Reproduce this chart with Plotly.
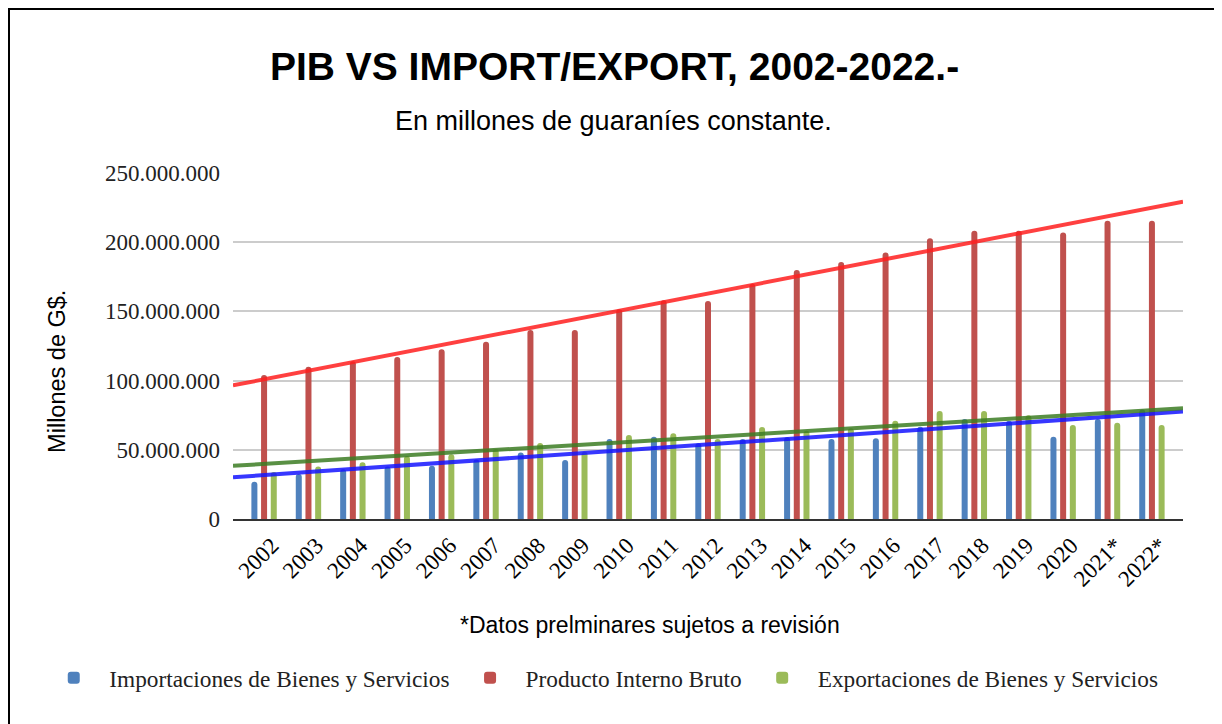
import numpy as np
import plotly.graph_objects as go

years = ['2002', '2003', '2004', '2005', '2006', '2007', '2008', '2009', '2010', '2011',
         '2012', '2013', '2014', '2015', '2016', '2017', '2018', '2019', '2020', '2021*', '2022*']
importaciones = [27.0, 32.5, 36.0, 38.0, 38.5, 43.0, 48.0, 42.6, 57.8, 59.5, 54.7,
                 57.8, 59.0, 57.8, 58.3, 66.7, 72.3, 71.0, 59.5, 72.3, 79.2]
pib = [104.0, 110.0, 114.0, 117.0, 122.6, 128.0, 136.6, 136.6, 151.5, 158.0, 157.5,
       170.0, 180.0, 185.7, 192.6, 202.8, 208.3, 208.3, 207.0, 215.5, 215.5]
exportaciones = [34.0, 38.0, 41.0, 45.5, 46.7, 50.6, 55.0, 48.6, 60.7, 62.0, 57.8,
                 66.5, 63.8, 65.5, 71.0, 78.0, 78.0, 75.0, 68.0, 69.6, 68.0]
y_ticks = [0, 50e6, 100e6, 150e6, 200e6, 250e6]
y_tick_labels = ['0', '50.000.000', '100.000.000', '150.000.000', '200.000.000', '250.000.000']

SCALE = 1e6
series = [
    ('Importaciones de Bienes y Servicios', importaciones, '#4f81bd', 'rgba(20,20,255,0.85)'),
    ('Producto Interno Bruto', pib, '#c0504d', 'rgba(255,30,30,0.85)'),
    ('Exportaciones de Bienes y Servicios', exportaciones, '#9bbb59', 'rgba(60,125,35,0.85)'),
]

x_range = [-0.7, len(years) - 1 + 0.7]
idx = np.arange(len(years))

fig = go.Figure()
for name, vals, col, _ in series:
    fig.add_trace(go.Bar(
        x=years, y=[v * SCALE for v in vals], name=name,
        marker=dict(color=col, cornerradius=3, line=dict(width=0)),
    ))

for name, vals, _, tcol in series:
    slope, icpt = np.polyfit(idx, np.array(vals) * SCALE, 1)
    xs = np.array(x_range)
    fig.add_trace(go.Scatter(
        x=xs, y=slope * xs + icpt, xaxis='x2', mode='lines',
        line=dict(color=tcol, width=4), showlegend=False, hoverinfo='skip',
    ))

SERIF = 'Liberation Serif, Times New Roman, serif'
SANS = 'Liberation Sans, Arial, sans-serif'

W, H = 1214, 716

fig.update_layout(
    width=W, height=H,
    margin=dict(l=225, r=39, t=165, b=205),
    paper_bgcolor='white', plot_bgcolor='white',
    barmode='group', bargap=0.345, bargroupgap=0.38,
    title=dict(text='<b>PIB VS IMPORT/EXPORT, 2002-2022.-</b>', x=(614.5 - 8) / W, xanchor='center',
               y=1 - 58 / H, yanchor='middle',
               font=dict(family=SANS, size=39, color='black')),
    xaxis=dict(type='category', range=x_range, tickangle=-45, showgrid=False,
               showline=True, linecolor='#333333', linewidth=2, ticks='',
               ticklabelshift=8, ticklabelstandoff=2,
               tickfont=dict(family=SERIF, size=23, color='black')),
    xaxis2=dict(overlaying='x', range=x_range, visible=False, type='linear'),
    yaxis=dict(range=[0, 250e6], tickvals=y_ticks, ticktext=y_tick_labels,
               showgrid=True, gridcolor='#cccccc', gridwidth=1.5, zeroline=False,
               ticks='', ticklabelstandoff=12,
               tickfont=dict(family=SERIF, size=23, color='#222222')),
    legend=dict(orientation='h', x=-0.205, xanchor='left', y=-0.4595, yanchor='middle',
                font=dict(family=SERIF, size=23.3, color='#222222'), traceorder='normal',
                itemwidth=61),
    showlegend=True,
    annotations=[
        dict(text='En millones de guaraníes constante.', xref='paper', yref='paper',
             x=0.4, y=1.150, xanchor='center', yanchor='middle', showarrow=False,
             font=dict(family=SANS, size=27, color='black')),
        dict(text='*Datos prelminares sujetos a revisión', xref='paper', yref='paper',
             x=0.4389, y=-0.306, xanchor='center', yanchor='middle', showarrow=False,
             font=dict(family=SANS, size=23, color='black')),
        dict(text='Millones de G$.', xref='paper', yref='paper', textangle=-90,
             x=-0.1853, y=0.428, xanchor='center', yanchor='middle', showarrow=False,
             font=dict(family=SANS, size=23.5, color='black')),
    ],
    shapes=[dict(type='rect', xref='paper', yref='paper',
                 x0=(1 - 225) / 950, x1=(1211 - 225) / 950,
                 y0=-0.7, y1=(511 - 1) / 346, line=dict(color='black', width=2), layer='below')],
)

fig.write_html('out.html')
